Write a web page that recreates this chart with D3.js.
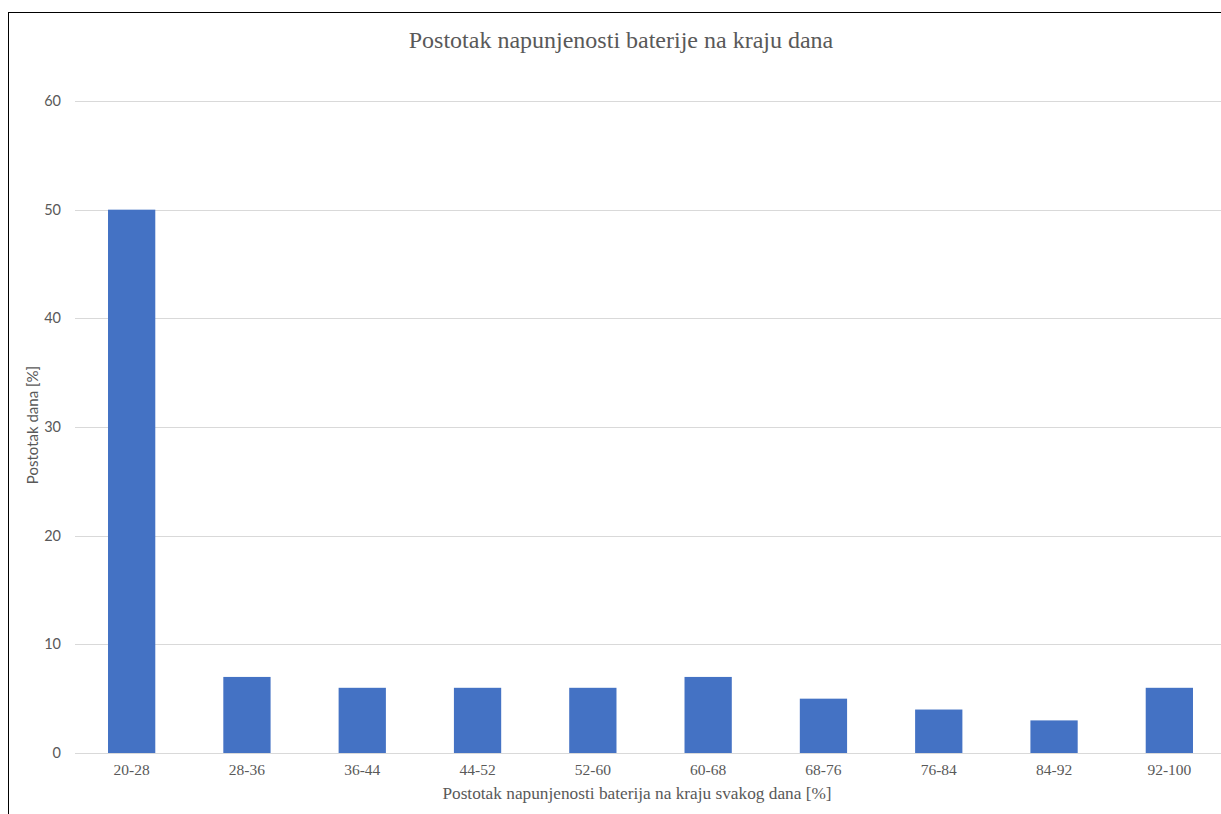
<!DOCTYPE html>
<html>
<head>
<meta charset="utf-8">
<script src="https://cdn.jsdelivr.net/npm/d3@7"></script>
<style>
  html, body { margin: 0; padding: 0; background: #fff; overflow: hidden; }
  svg { display: block; }
</style>
</head>
<body>
<svg id="chart" width="1221" height="814"></svg>
<script>
const categories = ["20-28", "28-36", "36-44", "44-52", "52-60", "60-68", "68-76", "76-84", "84-92", "92-100"];
const values = [50, 7, 6, 6, 6, 7, 5, 4, 3, 6];
const yTicks = [0, 10, 20, 30, 40, 50, 60];
const titleText = "Postotak napunjenosti baterije na kraju dana";
const xTitleText = "Postotak napunjenosti baterija na kraju svakog dana [%]";
const yTitleText = "Postotak dana [%]";

const svg = d3.select("#chart");
const W = 1221, H = 814;
const serif = "'Liberation Serif', 'Times New Roman', serif";
const sans = "Lato, 'Liberation Sans', sans-serif";
const textColor = "#595959";

// frame
svg.append("rect")
  .attr("x", 8.5).attr("y", 12.5)
  .attr("width", W + 20).attr("height", H + 20)
  .attr("fill", "#fff").attr("stroke", "#000").attr("stroke-width", 1);

const plot = { left: 74, right: 1227, top: 101, bottom: 753 };

const x = d3.scaleBand().domain(categories)
  .range([plot.left, plot.right]).paddingInner(0.59).paddingOuter(0.295);
const y = d3.scaleLinear().domain([0, 60]).range([plot.bottom, plot.top]);

// gridlines
svg.append("g").selectAll("line").data(yTicks).join("line")
  .attr("x1", 75).attr("x2", 1221)
  .attr("y1", d => Math.round(y(d)) + 0.5).attr("y2", d => Math.round(y(d)) + 0.5)
  .attr("stroke", "#d9d9d9").attr("stroke-width", 1);

// y axis labels
const yAxis = d3.axisLeft(y).tickValues(yTicks).tickSize(0).tickPadding(0);
const gy = svg.append("g").attr("transform", "translate(61,0)").call(yAxis);
gy.select(".domain").remove();
gy.selectAll("text").attr("font-family", sans).attr("font-size", 14.5).attr("fill", textColor);

// bars
svg.append("g").selectAll("rect").data(values).join("rect")
  .attr("x", (d, i) => x(categories[i]))
  .attr("width", x.bandwidth())
  .attr("y", d => y(d))
  .attr("height", d => y(0) - y(d))
  .attr("fill", "#4472c4");

// x axis labels
const xAxis = d3.axisBottom(x).tickSize(0).tickPadding(0);
const gx = svg.append("g").attr("transform", `translate(0,${plot.bottom + 11})`).call(xAxis);
gx.select(".domain").remove();
gx.selectAll("text").attr("font-family", serif).attr("font-size", 15.5).attr("fill", textColor);

// title
svg.append("text").attr("x", 621).attr("y", 48).attr("text-anchor", "middle")
  .attr("font-family", serif).attr("font-size", 24).attr("fill", textColor).text(titleText);

// x title
svg.append("text").attr("x", 637).attr("y", 799).attr("text-anchor", "middle")
  .attr("font-family", serif).attr("font-size", 17.3).attr("fill", textColor).text(xTitleText);

// y title
svg.append("text").attr("transform", "translate(38,425) rotate(-90)").attr("text-anchor", "middle")
  .attr("font-family", sans).attr("font-size", 15).attr("fill", textColor).text(yTitleText);
</script>
</body>
</html>
